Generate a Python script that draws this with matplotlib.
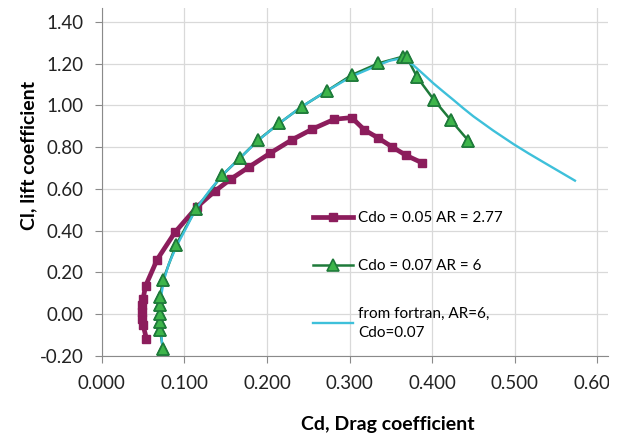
import matplotlib
matplotlib.use("Agg")
import matplotlib.pyplot as plt
from matplotlib.ticker import FormatStrFormatter
from matplotlib.transforms import Bbox, TransformedBbox

plt.rcParams['font.family'] = ['Lato', 'DejaVu Sans']

# Cdo = 0.05, AR = 2.77
cd_a = [0.054, 0.050, 0.049, 0.049, 0.049, 0.050, 0.053, 0.067, 0.0885, 0.1155,
        0.137, 0.156, 0.1785, 0.2036, 0.230, 0.255, 0.2816, 0.3026, 0.318, 0.334,
        0.351, 0.3685, 0.3875]
cl_a = [-0.117, -0.053, -0.021, 0.011, 0.043, 0.075, 0.136, 0.262, 0.392, 0.515,
        0.590, 0.647, 0.706, 0.771, 0.835, 0.887, 0.934, 0.942, 0.883, 0.846,
        0.803, 0.761, 0.726]

# Cdo = 0.07, AR = 6
cd_b = [0.074, 0.0705, 0.0705, 0.0705, 0.0705, 0.0705, 0.074, 0.0897, 0.114, 0.146,
        0.167, 0.1895, 0.215, 0.242, 0.273, 0.3026, 0.335, 0.3645, 0.369, 0.382,
        0.4024, 0.4226, 0.444]
cl_b = [-0.165, -0.077, -0.037, 0.003, 0.043, 0.083, 0.163, 0.331, 0.505, 0.667,
        0.747, 0.835, 0.915, 0.994, 1.071, 1.146, 1.202, 1.234, 1.234, 1.135,
        1.026, 0.930, 0.831]

# from fortran, AR=6, Cdo=0.07
cd_f = [0.0735, 0.0715, 0.0705, 0.0715, 0.075, 0.081, 0.091, 0.103, 0.114, 0.130,
        0.146, 0.167, 0.190, 0.215, 0.242, 0.273, 0.303, 0.335, 0.349, 0.363,
        0.377, 0.390, 0.4016, 0.414, 0.426, 0.438, 0.450, 0.474, 0.4986, 0.517,
        0.535, 0.554, 0.573]
cl_f = [-0.160, -0.080, 0.000, 0.080, 0.160, 0.240, 0.330, 0.420, 0.505, 0.590,
        0.667, 0.747, 0.835, 0.915, 0.994, 1.071, 1.140, 1.194, 1.215, 1.226,
        1.194, 1.148, 1.106, 1.065, 1.026, 0.986, 0.948, 0.880, 0.815, 0.770,
        0.728, 0.684, 0.640]

fig = plt.figure(figsize=(6.21, 4.37), dpi=100)
ax = fig.add_axes([0.164, 0.1854, 0.815, 0.7963])

green_kw = dict(marker='^', markersize=9, markerfacecolor='#3DB54A',
                markeredgecolor='#1E7A3A', markeredgewidth=1.2)

ax.plot(cd_a, cl_a, color='#8C1D5C', linewidth=3.4, marker='s', markersize=6,
        markerfacecolor='#8C1D5C', markeredgecolor='#8C1D5C', zorder=2,
        label='Cdo = 0.05 AR = 2.77')
ax.plot(cd_b, cl_b, color='#1E7A3A', linewidth=1.8, zorder=2,
        label='Cdo = 0.07 AR = 6', **green_kw)
ax.plot(cd_f, cl_f, color='#3EC0DA', linewidth=1.7, zorder=3,
        label='from fortran, AR=6,\nCdo=0.07')
# triangles sit on top of the fortran curve
ax.plot(cd_b, cl_b, linestyle='none', zorder=4, **green_kw)

ax.set_xlim(0, 0.613)
ax.set_ylim(-0.2, 1.467)
ax.set_xticks([0.0, 0.1, 0.2, 0.3, 0.4, 0.5, 0.6])
ax.set_yticks([-0.2, 0.0, 0.2, 0.4, 0.6, 0.8, 1.0, 1.2, 1.4])
ax.xaxis.set_major_formatter(FormatStrFormatter('%.3f'))
ax.yaxis.set_major_formatter(FormatStrFormatter('%.2f'))
ax.tick_params(labelsize=13.5, labelcolor='#222222', color='#8A8A8A',
               length=5, direction='out')
ax.tick_params(axis='y', pad=8)
ax.tick_params(axis='x', pad=9)
ax.grid(True, color='#D9D9D9', linewidth=0.9)
ax.set_axisbelow(True)
for s in ['top', 'right']:
    ax.spines[s].set_visible(False)
for s in ['left', 'bottom']:
    ax.spines[s].set_color('#8A8A8A')

ax.set_xlabel('Cd, Drag coefficient', fontsize=14, fontweight='bold')
ax.set_ylabel('Cl, lift coefficient', fontsize=14, fontweight='bold')
ax.xaxis.set_label_coords(0.565, -0.172)
ax.yaxis.set_label_coords(-0.128, 0.575)

# last tick label is cut off at the chart edge in the original
clip = TransformedBbox(Bbox([[0, 0], [609 / 621, 1]]), fig.transFigure)
for t in ax.get_xticklabels():
    t.set_clip_box(clip)
    t.set_clip_on(True)

h, l = ax.get_legend_handles_labels()
leg = ax.legend(h[:3], l[:3], loc='upper left',
                bbox_to_anchor=(0.39, 0.455), frameon=False, fontsize=11,
                handlelength=2.6, labelspacing=2.2, handletextpad=0.35)
for t in leg.get_texts():
    t.set_linespacing(1.45)

fig.savefig('out.png', dpi=100)
